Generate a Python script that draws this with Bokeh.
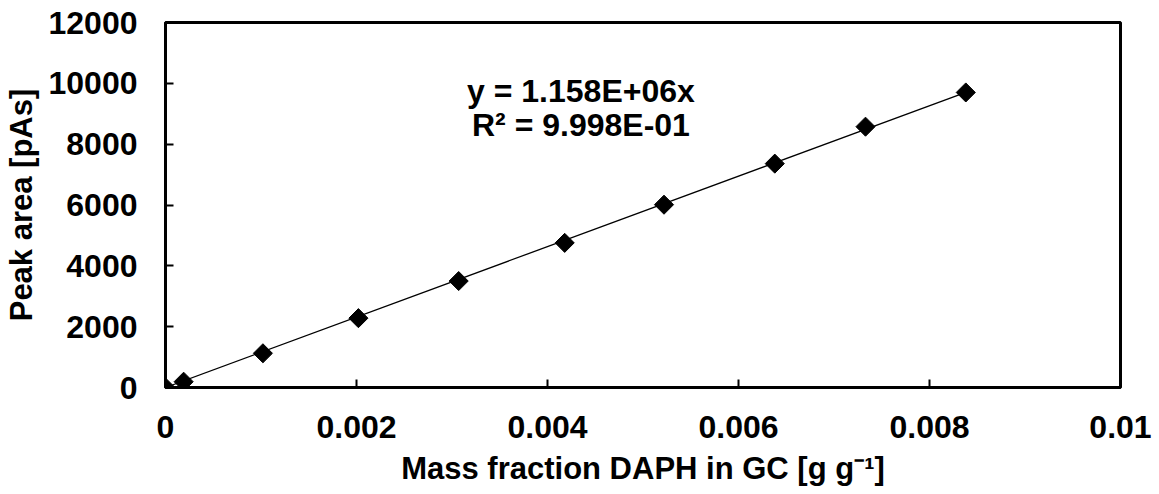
import math
from bokeh.plotting import figure
from bokeh.models import Range1d, FixedTicker, Label
from bokeh.embed import file_html
from bokeh.resources import INLINE

# data
mass_fraction = [0.0, 0.00019, 0.00102, 0.00202, 0.00307, 0.00418, 0.00522, 0.00638, 0.00733, 0.00838]
peak_area = [0, 190, 1125, 2280, 3500, 4755, 6010, 7360, 8575, 9700]
slope = 1.158e6
fit_text = ["y = 1.158E+06x", "R\u00b2 = 9.998E-01"]
x_ticks = [0, 0.002, 0.004, 0.006, 0.008, 0.01]
x_tick_labels = ["0", "0.002", "0.004", "0.006", "0.008", "0.01"]
y_ticks = [0, 2000, 4000, 6000, 8000, 10000, 12000]
y_tick_labels = ["0", "2000", "4000", "6000", "8000", "10000", "12000"]
x_label = "Mass fraction DAPH in GC [g g\u207b\u00b9]"
y_label = "Peak area [pAs]"

FONT = "Liberation Sans"

p = figure(width=1159, height=494, output_backend="svg", toolbar_location=None,
           x_range=Range1d(0, 0.01), y_range=Range1d(0, 12000),
           min_border_left=165, min_border_right=39, min_border_top=22, min_border_bottom=107)
p.background_fill_color = "white"
p.border_fill_color = "white"
p.outline_line_color = "black"
p.outline_line_width = 3
p.xgrid.visible = False
p.ygrid.visible = False

for ax, ticks, labels in ((p.xaxis[0], x_ticks, x_tick_labels), (p.yaxis[0], y_ticks, y_tick_labels)):
    ax.ticker = FixedTicker(ticks=ticks)
    ax.major_label_overrides = {t: l for t, l in zip(ticks, labels)}
    ax.minor_tick_line_color = None
    ax.major_tick_in = 8
    ax.major_tick_out = 0
    ax.major_tick_line_width = 2
    ax.axis_line_width = 3
    ax.major_label_text_font = FONT
    ax.major_label_text_font_style = "bold"
    ax.major_label_text_font_size = "32px"
    ax.major_label_text_color = "black"
    ax.axis_label_text_font = FONT
    ax.axis_label_text_font_style = "bold"
    ax.axis_label_text_font_size = "31px"
    ax.axis_label_text_color = "black"

p.xaxis.axis_label = x_label
p.yaxis.axis_label = y_label
p.xaxis.major_label_standoff = 28
p.yaxis.major_label_standoff = 28
p.xaxis.axis_label_standoff = 10
p.yaxis.axis_label_standoff = 7

# trendline through origin over the data range
x_fit = [0.0, max(mass_fraction)]
y_fit = [slope * x for x in x_fit]
p.line(x_fit, y_fit, line_color="black", line_width=1.3)

p.scatter(mass_fraction, peak_area, marker="square", size=13.5, angle=math.pi / 4,
          fill_color="black", line_color="black")

for txt, yy in zip(fit_text, [9740, 8620]):
    p.add_layout(Label(x=0.00435, y=yy, text=txt, text_align="center", text_baseline="middle",
                       text_font=FONT, text_font_style="bold", text_font_size="32px",
                       text_color="black"))

open("out.html", "w").write(file_html(p, INLINE))
